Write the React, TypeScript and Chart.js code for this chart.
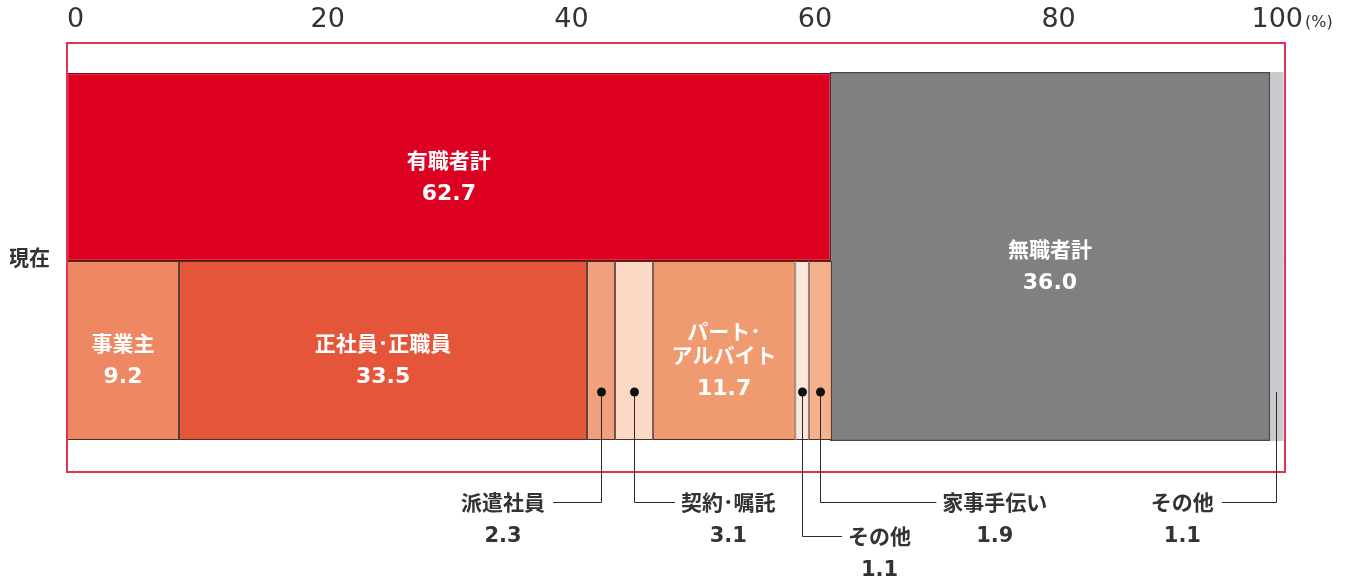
import React, { useEffect, useRef } from 'react';
import { Chart, registerables } from 'chart.js';

Chart.register(...registerables);

// ---------------- data ----------------
const rowLabel = '現在';
const upperCategories = ['有職者計', '無職者計', 'その他'];
const upperValues = [62.7, 36.0, 1.1];
const upperSpansBothRows = [false, true, true];
const lowerCategories = ['事業主', '正社員･正職員', '派遣社員', '契約･嘱託', 'パート･アルバイト', 'その他', '家事手伝い'];
const lowerValues = [9.2, 33.5, 2.3, 3.1, 11.7, 1.1, 1.9];
const xTickValues = [0, 20, 40, 60, 80, 100];
const xUnit = '(%)';

// ---------------- styles ----------------
const upperColors = ['#DE0020', '#808080', '#CBCBCF'];
const upperBorders = ['#6e0a14', '#464646', '#5a5a5a'];
const upperBorderWidths = [1.2, 1.2, 0];
const lowerColors = ['#EE8862', '#E4553A', '#F0A07C', '#FCD9C5', '#F09A6F', '#FDE6DA', '#F5B08C'];
const lowerBorder = '#4e3028';

type Callout = { side: 'left' | 'right'; reach: number; level: number; dot: boolean };
const upperCallouts: (Callout | null)[] = [null, null, { side: 'left', reach: 54, level: 0, dot: false }];
const lowerCallouts: (Callout | null)[] = [
  null,
  null,
  { side: 'left', reach: 48, level: 0, dot: true },
  { side: 'right', reach: 41, level: 0, dot: true },
  null,
  { side: 'right', reach: 40, level: 1, dot: true },
  { side: 'right', reach: 116, level: 0, dot: true },
];

const NAME_FONT = '"Noto Sans CJK JP", "Noto Sans", sans-serif';
const NUM_FONT = '"DejaVu Sans", sans-serif';
const BOX_COLOR = '#df3354';
const TEXT_DARK = '#333333';

const ROW_TOP = 1;
const ROW_BOTTOM = 2;
const Y_MIN = 0.3243;
const Y_MAX = 2.6621;
const TOP_ROW_PCT = 1.0245;
const BOTTOM_ROW_PCT = 0.9755;

function cumulative(values: number[]) {
  const out: [number, number][] = [];
  let s = 0;
  values.forEach((v) => {
    out.push([s, +(s + v).toFixed(4)]);
    s += v;
  });
  return out;
}

function buildDatasets() {
  const ds: any[] = [];
  const lowerRanges = cumulative(lowerValues);
  lowerCategories.forEach((name, i) => {
    ds.push({
      label: name,
      segKey: 'L' + i,
      segName: name,
      segValue: lowerValues[i],
      callout: lowerCallouts[i],
      data: [{ x: lowerRanges[i], y: ROW_BOTTOM }],
      backgroundColor: lowerColors[i],
      borderColor: lowerBorder,
      borderWidth: 1,
      borderSkipped: false,
      grouped: false,
      categoryPercentage: 1,
      barPercentage: BOTTOM_ROW_PCT,
    });
  });
  const upperRanges = cumulative(upperValues);
  upperCategories.forEach((name, i) => {
    const common = {
      label: name,
      segKey: 'U' + i,
      segName: name,
      segValue: upperValues[i],
      callout: upperCallouts[i],
      backgroundColor: upperColors[i],
      borderColor: upperBorders[i],
      borderWidth: upperBorderWidths[i],
      grouped: false,
      categoryPercentage: 1,
    };
    if (upperSpansBothRows[i]) {
      ds.push({ ...common, data: [{ x: upperRanges[i], y: ROW_TOP }], barPercentage: TOP_ROW_PCT, borderSkipped: 'bottom', inflateAmount: 1 });
      ds.push({ ...common, data: [{ x: upperRanges[i], y: ROW_BOTTOM }], barPercentage: BOTTOM_ROW_PCT, borderSkipped: 'top', inflateAmount: 1 });
    } else {
      ds.push({ ...common, data: [{ x: upperRanges[i], y: ROW_TOP }], barPercentage: TOP_ROW_PCT, borderSkipped: false });
    }
  });
  return ds;
}

const segmentPlugin = {
  id: 'segmentLabels',
  afterDatasetsDraw(chart: any) {
    const ctx: CanvasRenderingContext2D = chart.ctx;
    const area = chart.chartArea;

    // frame
    ctx.save();
    ctx.strokeStyle = BOX_COLOR;
    ctx.lineWidth = 2;
    ctx.strokeRect(area.left, area.top, area.right - area.left, area.bottom - area.top);
    ctx.restore();

    // gather segments
    const segs = new Map<string, any>();
    chart.data.datasets.forEach((ds: any, i: number) => {
      const meta = chart.getDatasetMeta(i);
      meta.data.forEach((el: any) => {
        const p = el.getProps(['x', 'y', 'base', 'height'], true);
        const l = Math.min(p.x, p.base);
        const r = Math.max(p.x, p.base);
        const t = p.y - p.height / 2;
        const b = p.y + p.height / 2;
        const cur = segs.get(ds.segKey);
        if (!cur) segs.set(ds.segKey, { l, r, t, b, ds });
        else {
          cur.l = Math.min(cur.l, l);
          cur.r = Math.max(cur.r, r);
          cur.t = Math.min(cur.t, t);
          cur.b = Math.max(cur.b, b);
        }
      });
    });

    ctx.save();
    segs.forEach((s) => {
      const { l, r, t, b, ds } = s;
      const name: string = ds.segName;
      const valueText = (ds.segValue as number).toFixed(1);
      const c: Callout | null = ds.callout;
      if (!c) {
        ctx.fillStyle = '#ffffff';
        ctx.textAlign = 'center';
        ctx.textBaseline = 'middle';
        ctx.font = `bold 21px ${NAME_FONT}`;
        let lines = [name];
        if (ctx.measureText(name).width > r - l - 12 && name.includes('･')) {
          const k = name.indexOf('･') + 1;
          lines = [name.slice(0, k), name.slice(k)];
        }
        const blockH = (lines.length - 1) * 24 + 34;
        const cx = (l + r) / 2;
        let y = (t + b) / 2 + 10 - blockH / 2;
        lines.forEach((ln, idx) => {
          ctx.fillText(ln, cx, y);
          if (idx < lines.length - 1) y += 24;
        });
        ctx.font = `bold 22px ${NUM_FONT}`;
        ctx.fillText(valueText, cx, y + 34);
      } else {
        const ax = (l + r) / 2;
        const ay = b - 48;
        const ly = area.bottom + (c.level === 0 ? 30 : 64);
        const ex = c.side === 'left' ? ax - c.reach : ax + c.reach;
        ctx.strokeStyle = '#2a2a2a';
        ctx.lineWidth = 1;
        ctx.beginPath();
        ctx.moveTo(Math.round(ax) + 0.5, ay);
        ctx.lineTo(Math.round(ax) + 0.5, Math.round(ly) + 0.5);
        ctx.lineTo(ex, Math.round(ly) + 0.5);
        ctx.stroke();
        if (c.dot) {
          ctx.fillStyle = '#111111';
          ctx.beginPath();
          ctx.arc(Math.round(ax) + 0.5, ay, 4.5, 0, Math.PI * 2);
          ctx.fill();
        }
        ctx.fillStyle = TEXT_DARK;
        ctx.font = `bold 21px ${NAME_FONT}`;
        ctx.textBaseline = 'middle';
        ctx.textAlign = 'left';
        const w = ctx.measureText(name).width;
        const tx = c.side === 'left' ? ex - 8 - w : ex + 6;
        ctx.fillText(name, tx, ly);
        ctx.textAlign = 'center';
        ctx.font = `bold 21px ${NUM_FONT}`;
        ctx.fillText(valueText, tx + w / 2, ly + 35);
      }
    });
    ctx.restore();
  },
  afterDraw(chart: any) {
    // last tick label with unit
    const ctx: CanvasRenderingContext2D = chart.ctx;
    const xs = chart.scales.x;
    const last = xTickValues[xTickValues.length - 1];
    const px = xs.getPixelForValue(last);
    const y = xs.bottom - 7 - 16.2;
    ctx.save();
    ctx.fillStyle = TEXT_DARK;
    ctx.textBaseline = 'middle';
    ctx.textAlign = 'right';
    ctx.font = `27px ${NUM_FONT}`;
    ctx.fillText(String(last), px + 18, y);
    ctx.textAlign = 'left';
    ctx.font = `16px ${NUM_FONT}`;
    ctx.fillText(xUnit, px + 20, y + 3);
    ctx.restore();
  },
};

export default function App() {
  const ref = useRef<HTMLCanvasElement>(null);
  useEffect(() => {
    document.body.style.margin = '0';
    const last = xTickValues[xTickValues.length - 1];
    const chart = new Chart(ref.current as HTMLCanvasElement, {
      type: 'bar',
      data: { datasets: buildDatasets() },
      plugins: [segmentPlugin],
      options: {
        indexAxis: 'y',
        animation: false,
        responsive: false,
        maintainAspectRatio: false,
        devicePixelRatio: 1,
        layout: { padding: { left: 10, right: 74, top: 4, bottom: 112 } },
        plugins: {
          legend: { display: false },
          tooltip: { enabled: false },
          title: { display: false },
        },
        scales: {
          x: {
            type: 'linear',
            position: 'top',
            min: 0,
            max: last,
            afterBuildTicks: (s: any) => {
              s.ticks = xTickValues.map((v) => ({ value: v }));
            },
            afterFit: (s: any) => {
              s.height = 39;
            },
            grid: { display: false, drawTicks: false },
            border: { display: false },
            ticks: {
              autoSkip: false,
              align: 'start',
              padding: 7,
              color: TEXT_DARK,
              font: { family: NUM_FONT, size: 27 },
              callback: (v: any) => (v === last ? '' : String(v)),
            },
          },
          y: {
            type: 'linear',
            reverse: true,
            min: Y_MIN,
            max: Y_MAX,
            display: false,
            afterBuildTicks: (s: any) => {
              s.ticks = [];
            },
          },
          yLabel: {
            type: 'category',
            labels: [rowLabel],
            position: 'left',
            offset: true,
            afterFit: (s: any) => {
              s.width = 57;
            },
            grid: { display: false, drawTicks: false },
            border: { display: false },
            ticks: {
              padding: 17,
              color: TEXT_DARK,
              font: { family: NAME_FONT, size: 21, weight: 'bold' },
            },
          },
        },
      } as any,
    });
    return () => chart.destroy();
  }, []);
  return (
    <div style={{ width: 1359, height: 584 }}>
      <canvas ref={ref} width={1359} height={584} style={{ display: 'block' }} />
    </div>
  );
}
